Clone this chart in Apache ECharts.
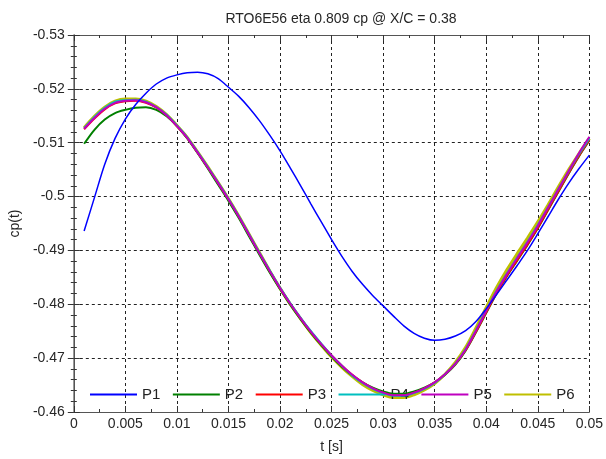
<!DOCTYPE html>
<html>
<head>
<meta charset="utf-8">
<script src="https://cdn.jsdelivr.net/npm/echarts@6/dist/echarts.min.js"></script>
<style>html,body{margin:0;padding:0;background:#fff}#c{width:606px;height:459px}</style>
</head>
<body>
<div id="c"></div>
<script>
const titleText = 'RTO6E56 eta 0.809 cp @ X/C = 0.38';
const xName = 't [s]';
const yName = 'cp(t)';
const seriesNames = ['P1', 'P2', 'P3', 'P4', 'P5', 'P6'];
const t = [0.001, 0.002, 0.003, 0.004, 0.005, 0.006, 0.007, 0.008, 0.009, 0.010,
           0.011, 0.012, 0.013, 0.014, 0.015, 0.016, 0.017, 0.018, 0.019, 0.020,
           0.021, 0.022, 0.023, 0.024, 0.025, 0.026, 0.027, 0.028, 0.029, 0.030,
           0.031, 0.032, 0.033, 0.034, 0.035, 0.036, 0.037, 0.038, 0.039, 0.040,
           0.041, 0.042, 0.043, 0.044, 0.045, 0.046, 0.047, 0.048, 0.049, 0.050];
const P1 = [-0.4936, -0.4998, -0.5060, -0.5108, -0.5144, -0.5171, -0.5192, -0.5209, -0.5220, -0.5226,
            -0.5230, -0.5231, -0.5228, -0.5219, -0.5203, -0.5186, -0.5165, -0.5141, -0.5114, -0.5085,
            -0.5053, -0.5020, -0.4986, -0.4953, -0.4920, -0.4889, -0.4861, -0.4837, -0.4816, -0.4797,
            -0.4778, -0.4760, -0.4746, -0.4737, -0.4733, -0.4735, -0.4741, -0.4751, -0.4768, -0.4792,
            -0.4818, -0.4845, -0.4872, -0.4900, -0.4931, -0.4963, -0.4995, -0.5025, -0.5052, -0.5077];
const P2 = [-0.5098, -0.5124, -0.5143, -0.5155, -0.5161, -0.5165, -0.5166, -0.5161, -0.5149, -0.5131,
            -0.5108, -0.5081, -0.5052, -0.5022, -0.4992, -0.4960, -0.4926, -0.4892, -0.4859, -0.4828,
            -0.4799, -0.4772, -0.4747, -0.4724, -0.4703, -0.4684, -0.4668, -0.4655, -0.4645, -0.4638,
            -0.4634, -0.4634, -0.4638, -0.4645, -0.4655, -0.4669, -0.4688, -0.4714, -0.4748, -0.4784,
            -0.4820, -0.4852, -0.4881, -0.4910, -0.4941, -0.4975, -0.5009, -0.5043, -0.5075, -0.5104];
const P3 = [-0.5125, -0.5145, -0.5162, -0.5173, -0.5177, -0.5178, -0.5174, -0.5165, -0.5151, -0.5131,
            -0.5109, -0.5082, -0.5054, -0.5025, -0.4995, -0.4963, -0.4929, -0.4895, -0.4862, -0.4830,
            -0.4801, -0.4774, -0.4749, -0.4726, -0.4705, -0.4686, -0.4669, -0.4655, -0.4644, -0.4636,
            -0.4631, -0.4631, -0.4636, -0.4644, -0.4655, -0.4670, -0.4689, -0.4715, -0.4749, -0.4785,
            -0.4821, -0.4853, -0.4882, -0.4911, -0.4942, -0.4976, -0.5010, -0.5044, -0.5076, -0.5105];
const P4 = [-0.5127, -0.5148, -0.5165, -0.5176, -0.5179, -0.5180, -0.5176, -0.5166, -0.5152, -0.5132,
            -0.5110, -0.5083, -0.5055, -0.5026, -0.4996, -0.4964, -0.4930, -0.4896, -0.4863, -0.4831,
            -0.4802, -0.4775, -0.4750, -0.4727, -0.4705, -0.4686, -0.4668, -0.4654, -0.4643, -0.4635,
            -0.4630, -0.4630, -0.4635, -0.4643, -0.4654, -0.4670, -0.4690, -0.4717, -0.4752, -0.4789,
            -0.4825, -0.4857, -0.4887, -0.4916, -0.4947, -0.4980, -0.5014, -0.5047, -0.5079, -0.5108];
const P5 = [-0.5126, -0.5146, -0.5163, -0.5174, -0.5178, -0.5179, -0.5175, -0.5166, -0.5151, -0.5131,
            -0.5109, -0.5082, -0.5054, -0.5025, -0.4995, -0.4963, -0.4929, -0.4895, -0.4862, -0.4830,
            -0.4801, -0.4774, -0.4749, -0.4726, -0.4705, -0.4686, -0.4669, -0.4655, -0.4644, -0.4636,
            -0.4631, -0.4631, -0.4636, -0.4644, -0.4655, -0.4670, -0.4690, -0.4716, -0.4751, -0.4788,
            -0.4824, -0.4856, -0.4886, -0.4915, -0.4946, -0.4980, -0.5014, -0.5048, -0.5081, -0.5111];
const P6 = [-0.5128, -0.5149, -0.5166, -0.5177, -0.5181, -0.5181, -0.5177, -0.5167, -0.5152, -0.5132,
            -0.5110, -0.5083, -0.5055, -0.5026, -0.4996, -0.4964, -0.4930, -0.4896, -0.4862, -0.4830,
            -0.4800, -0.4773, -0.4747, -0.4724, -0.4702, -0.4683, -0.4666, -0.4651, -0.4640, -0.4632,
            -0.4627, -0.4627, -0.4632, -0.4641, -0.4653, -0.4670, -0.4692, -0.4720, -0.4756, -0.4794,
            -0.4831, -0.4864, -0.4894, -0.4923, -0.4953, -0.4985, -0.5018, -0.5050, -0.5080, -0.5108];
const seriesValues = [P1, P2, P3, P4, P5, P6];
const colors = ['#0000ff', '#008000', '#ff0000', '#00bfbf', '#bf00bf', '#bfbf00'];
const widths = [1.5, 2, 2, 2, 2, 3];
const zs = [5, 4, 4, 4, 4, 3];

const font = 'Liberation Sans, Arial, sans-serif';
const chart = echarts.init(document.getElementById('c'), null, {renderer: 'canvas'});

const tickCommon = {
  axisLine: {show: true, lineStyle: {color: '#555', width: 1}},
  axisTick: {show: true, inside: true, length: 6, lineStyle: {color: '#333'}}
};

const option = {
  animation: false,
  backgroundColor: '#fff',
  title: {
    text: titleText, left: 336, textAlign: 'center', top: 7,
    textStyle: {fontFamily: font, fontSize: 14, fontWeight: 'normal', color: '#262626'}
  },
  grid: {left: 72, right: 16, top: 35, bottom: 44, containLabel: false},
  legend: {
    data: seriesNames, left: 90, top: 387, padding: 0,
    icon: 'rect', itemWidth: 47, itemHeight: 2, itemGap: 12.5,
    textStyle: {fontFamily: font, fontSize: 15, color: '#222'}
  },
  xAxis: [{
    type: 'value', min: 0, max: 0.05, interval: 0.005, position: 'bottom',
    name: xName, nameLocation: 'middle', nameGap: 28,
    nameTextStyle: {fontFamily: font, fontSize: 14, color: '#262626'},
    axisLabel: {fontFamily: font, fontSize: 14, color: '#262626', margin: 5},
    splitLine: {show: true, lineStyle: {color: '#222', type: [3, 3], width: 1}},
    ...tickCommon, minorTick: {show: true, splitNumber: 2, length: 3, lineStyle: {color: '#333'}}
  }, {
    type: 'value', min: 0, max: 0.05, interval: 0.005, position: 'top',
    axisLabel: {show: false}, splitLine: {show: false},
    ...tickCommon, minorTick: {show: true, splitNumber: 2, length: 3, lineStyle: {color: '#333'}}
  }],
  yAxis: [{
    type: 'value', min: -0.53, max: -0.46, interval: 0.01, inverse: true, position: 'left',
    name: yName, nameLocation: 'middle', nameGap: 46,
    nameTextStyle: {fontFamily: font, fontSize: 14, color: '#262626'},
    axisLabel: {fontFamily: font, fontSize: 14, color: '#262626', margin: 9},
    splitLine: {show: true, lineStyle: {color: '#222', type: [3, 3], width: 1}},
    ...tickCommon,
    axisLine: {show: true, lineStyle: {color: '#777', width: 1.5}},
    minorTick: {show: true, splitNumber: 5, length: 3, lineStyle: {color: '#333'}}
  }, {
    type: 'value', min: -0.53, max: -0.46, interval: 0.01, inverse: true, position: 'right',
    axisLabel: {show: false}, splitLine: {show: false},
    ...tickCommon, minorTick: {show: true, splitNumber: 5, length: 3, lineStyle: {color: '#333'}}
  }],
  series: seriesNames.map((name, i) => ({
    name: name, type: 'line', xAxisIndex: 0, yAxisIndex: 0,
    data: t.map((x, j) => [x, seriesValues[i][j]]),
    showSymbol: false, symbol: 'none', smooth: 0.3, z: zs[i],
    color: colors[i],
    lineStyle: {color: colors[i], width: widths[i]}
  }))
};
chart.setOption(option);
</script>
</body>
</html>
